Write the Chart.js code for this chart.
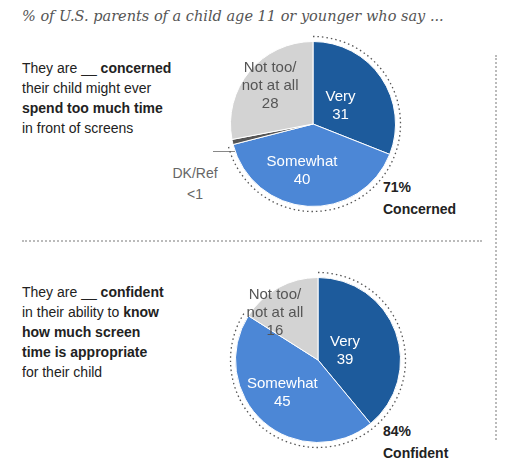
<!DOCTYPE html>
<html><head><meta charset="utf-8">
<script src="https://cdn.jsdelivr.net/npm/chart.js@4"></script>
<style>
body{margin:0;width:525px;height:475px;background:#fff;font-family:Arial,"Liberation Sans",sans-serif;color:#222;position:relative;overflow:hidden}
.a{position:absolute}
.q{font-size:14px;line-height:20px}
.title{left:22px;top:8px;font-family:Georgia,"DejaVu Serif",serif;font-style:italic;font-size:14.5px;color:#555}
.tot{font-size:14px;font-weight:bold;line-height:22px}
.dk{font-size:14px;color:#666;line-height:21px;text-align:center}
</style></head><body>
<div class="a title">% of U.S. parents of a child age 11 or younger who say ...</div>
<div class="a q" style="left:22px;top:58px">They are __ <b>concerned</b><br>their child might ever<br><b>spend too much time</b><br>in front of screens</div>
<div class="a q" style="left:22px;top:282px">They are __ <b>confident</b><br>in their ability to <b>know<br>how much screen<br>time is appropriate</b><br>for their child</div>
<div class="a dk" style="left:160px;top:163px;width:70px">DK/Ref<br>&lt;1</div>
<div class="a" style="left:213px;top:151px;width:30px;border-top:1px solid #888"></div>
<div class="a" style="left:242px;top:143px;height:8px;border-left:1px solid #888"></div>
<div class="a tot" style="left:383px;top:176px">71%<br>Concerned</div>
<div class="a tot" style="left:383px;top:420px">84%<br>Confident</div>
<div class="a" style="left:22px;top:240px;width:460px;border-top:2px dotted #bbb"></div>
<div class="a" style="left:495px;top:55px;height:385px;border-left:2px dotted #bbb"></div>
<canvas id="c1" class="a" style="left:221px;top:32px" width="184" height="184"></canvas>
<canvas id="c2" class="a" style="left:226px;top:268px" width="184" height="184"></canvas>
<script>
const cats1 = ["Very", "Somewhat", "DK/Ref", "Not too/\nnot at all"];
const vals1 = [31, 40, 1, 28];
const cats2 = ["Very", "Somewhat", "Not too/\nnot at all"];
const vals2 = [39, 45, 16];

const colors1 = ["#1d5b9c", "#4c87d6", "#555555", "#d3d3d3"];
const colors2 = ["#1d5b9c", "#4c87d6", "#d3d3d3"];

// slice labels + dotted arc around the "concerned/confident" slices
const pieDeco = {
    id: "pieDeco",
    afterDraw(chart, args, opts) {
        const ctx = chart.ctx;
        const arcs = chart.getDatasetMeta(0).data;
        const cats = chart.data.labels;
        const vals = chart.data.datasets[0].data;
        ctx.save();
        ctx.font = "15px Arial";
        ctx.textAlign = "center";
        arcs.forEach((a, i) => {
            if (opts.skip.includes(i)) return;
            const mid = (a.startAngle + a.endAngle) / 2;
            const r = a.outerRadius * 0.58;
            const x = a.x + Math.cos(mid) * r + (opts.dx[i] || 0);
            const y = a.y + Math.sin(mid) * r + (opts.dy[i] || 0);
            const lines = cats[i].split("\n").concat(String(vals[i]));
            ctx.fillStyle = opts.text[i];
            lines.forEach((l, k) => ctx.fillText(l, x, y - (lines.length - 1) * 9 + k * 18 + 5));
        });
        const a0 = arcs[0], a1 = arcs[opts.upto];
        ctx.setLineDash([1.5, 3]);
        ctx.strokeStyle = "#555";
        ctx.lineWidth = 1.3;
        ctx.beginPath();
        ctx.arc(a0.x, a0.y, a0.outerRadius + 5, a0.startAngle, a1.endAngle);
        ctx.stroke();
        ctx.restore();
    }
};

function makePie(id, cats, vals, colors, opts) {
    new Chart(document.getElementById(id), {
        type: "pie",
        data: {
            labels: cats,
            datasets: [{ data: vals, backgroundColor: colors, borderColor: "#fff", borderWidth: 1 }]
        },
        options: {
            responsive: false,
            animation: false,
            layout: { padding: 9 },
            plugins: { legend: { display: false }, tooltip: { enabled: false }, pieDeco: opts }
        },
        plugins: [pieDeco]
    });
}

makePie("c1", cats1, vals1, colors1, {
    upto: 1, skip: [2],
    text: ["#fff", "#fff", "#fff", "#555"],
    dx: [-12, -8, 0, -6], dy: [8, -2, 0, -8]
});
makePie("c2", cats2, vals2, colors2, {
    upto: 1, skip: [],
    text: ["#fff", "#fff", "#555"],
    dx: [-18, -4, -20], dy: [6, -4, -6]
});
</script>
</body></html>
